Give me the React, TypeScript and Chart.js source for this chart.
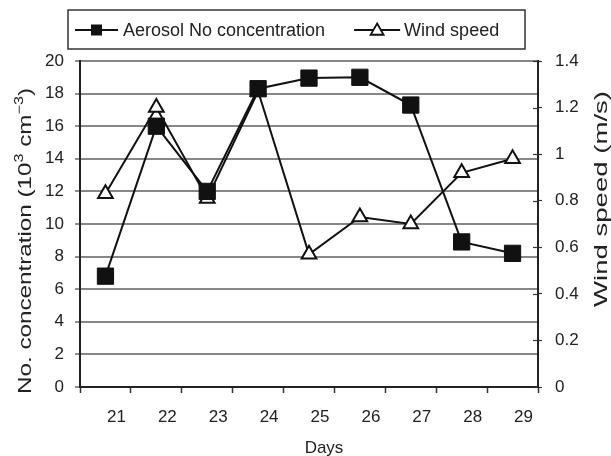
import React, { useEffect, useRef } from 'react';
import { Chart, registerables } from 'chart.js';

Chart.register(...registerables);

const days = ['21', '22', '23', '24', '25', '26', '27', '28', '29'];
const aerosol = [6.8, 16.0, 12.0, 18.3, 18.95, 19.0, 17.3, 8.9, 8.2];
const wind = [0.83, 1.2, 0.81, 1.27, 0.57, 0.73, 0.7, 0.92, 0.98];
const aerosolLabel = 'Aerosol No concentration';
const windLabel = 'Wind speed';
const leftMin = 0;
const leftMax = 20;
const leftStep = 2;
const rightMin = 0;
const rightMax = 1.4;
const rightStep = 0.2;
const xTitle = 'Days';
const rightTitle = 'Wind speed (m/s)';

const FONT = '"Liberation Sans", Arial, sans-serif';
const TEXT = '#222';

function drawSquare(ctx: CanvasRenderingContext2D, x: number, y: number, s: number) {
  ctx.fillStyle = '#111';
  ctx.fillRect(x - s / 2, y - s / 2, s, s);
}
function drawTri(ctx: CanvasRenderingContext2D, x: number, y: number, r: number) {
  ctx.beginPath();
  ctx.moveTo(x, y - r);
  ctx.lineTo(x + r * 0.866, y + r / 2);
  ctx.lineTo(x - r * 0.866, y + r / 2);
  ctx.closePath();
  ctx.fillStyle = '#fff';
  ctx.fill();
  ctx.lineWidth = 1.8;
  ctx.strokeStyle = '#111';
  ctx.stroke();
}

const decor = {
  id: 'decor',
  afterDraw(chart: any) {
    const ctx: CanvasRenderingContext2D = chart.ctx;
    const area = chart.chartArea;
    ctx.save();

    // inner tick marks on right axis
    const y1 = chart.scales.y1;
    ctx.strokeStyle = '#333';
    ctx.lineWidth = 1.2;
    y1.ticks.forEach((t: any) => {
      const py = Math.round(y1.getPixelForValue(t.value)) + 0.5;
      ctx.beginPath();
      ctx.moveTo(area.right - 5, py);
      ctx.lineTo(area.right, py);
      ctx.stroke();
    });

    // legend
    const bx = 68, by = 10, bw = 457, bh = 39;
    ctx.strokeStyle = '#333';
    ctx.lineWidth = 1.5;
    ctx.strokeRect(bx, by, bw, bh);
    const ly = by + bh / 2 + 0.5;
    ctx.font = `18px ${FONT}`;
    ctx.textBaseline = 'middle';
    ctx.fillStyle = TEXT;
    // item 1
    let x = bx + 7;
    ctx.strokeStyle = '#111';
    ctx.lineWidth = 2;
    ctx.beginPath();
    ctx.moveTo(x, ly);
    ctx.lineTo(x + 43, ly);
    ctx.stroke();
    drawSquare(ctx, x + 21.5, ly, 11);
    x += 48;
    ctx.fillStyle = TEXT;
    ctx.fillText(aerosolLabel, x, ly + 1);
    x += ctx.measureText(aerosolLabel).width + 29;
    // item 2
    ctx.strokeStyle = '#111';
    ctx.lineWidth = 2;
    ctx.beginPath();
    ctx.moveTo(x, ly);
    ctx.lineTo(x + 46, ly);
    ctx.stroke();
    drawTri(ctx, x + 23, ly + 1, 7.5);
    x += 50;
    ctx.fillStyle = TEXT;
    ctx.fillText(windLabel, x, ly + 1);

    // x title
    ctx.font = `17px ${FONT}`;
    ctx.textAlign = 'center';
    ctx.textBaseline = 'alphabetic';
    ctx.fillText(xTitle, (area.left + area.right) / 2 + 15, 452.5);

    // left title with superscripts
    const parts = [
      { t: 'No. concentration (10', sup: false },
      { t: '3', sup: true },
      { t: ' cm', sup: false },
      { t: '\u22123', sup: true },
      { t: ')', sup: false },
    ];
    const base = `18px ${FONT}`;
    const supF = `12px ${FONT}`;
    let total = 0;
    const widths = parts.map((p) => {
      ctx.font = p.sup ? supF : base;
      const w = ctx.measureText(p.t).width;
      total += w;
      return w;
    });
    ctx.save();
    ctx.translate(24, (area.top + area.bottom) / 2 + 17);
    ctx.rotate(-Math.PI / 2);
    ctx.scale(306 / total, 1);
    ctx.textAlign = 'left';
    let cx = -total / 2;
    parts.forEach((p, i) => {
      ctx.font = p.sup ? supF : base;
      ctx.fillText(p.t, cx, p.sup ? -1 : 6.5);
      cx += widths[i];
    });
    ctx.restore();

    // right title
    ctx.save();
    ctx.font = base;
    const rw = ctx.measureText(rightTitle).width;
    ctx.translate(600, 199);
    ctx.rotate(-Math.PI / 2);
    ctx.scale(216 / rw, 1);
    ctx.textAlign = 'center';
    ctx.fillText(rightTitle, 0, 6.5);
    ctx.restore();

    ctx.restore();
  },
};

export default function App() {
  const ref = useRef<HTMLCanvasElement>(null);
  useEffect(() => {
    const canvas = ref.current!;
    const tickFont = { family: FONT, size: 17 };
    const chart = new Chart(canvas, {
      type: 'line',
      data: {
        labels: days,
        datasets: [
          {
            label: aerosolLabel,
            data: aerosol,
            yAxisID: 'y',
            borderColor: '#111',
            borderWidth: 2,
            pointStyle: 'rect',
            pointRadius: 11.5,
            pointBackgroundColor: '#111',
            pointBorderColor: '#111',
            pointBorderWidth: 1,
            tension: 0,
          },
          {
            label: windLabel,
            data: wind,
            yAxisID: 'y1',
            borderColor: '#111',
            borderWidth: 2,
            pointStyle: 'triangle',
            pointRadius: 8.5,
            pointBackgroundColor: '#fff',
            pointBorderColor: '#111',
            pointBorderWidth: 2,
            tension: 0,
          },
        ],
      },
      options: {
        responsive: false,
        animation: false,
        devicePixelRatio: 1,
        layout: { padding: { top: 61, left: 0, right: 0, bottom: 0 } },
        plugins: { legend: { display: false }, tooltip: { enabled: false } },
        scales: {
          x: {
            type: 'category',
            offset: true,
            grid: { offset: true, drawOnChartArea: false, tickLength: 6, tickColor: '#333', tickWidth: 1.5 },
            border: { color: '#222', width: 2 },
            ticks: { labelOffset: 11, padding: 14, font: tickFont, color: TEXT, maxRotation: 0 },
            afterFit: (s: any) => {
              s.height = 69;
            },
          },
          y: {
            position: 'left',
            min: leftMin,
            max: leftMax,
            ticks: { stepSize: leftStep, padding: 11, font: tickFont, color: TEXT },
            grid: { color: '#878787', lineWidth: 2, tickLength: 5, tickColor: '#444', tickWidth: 1.2 },
            border: { color: '#222', width: 2 },
            afterFit: (s: any) => {
              s.width = 80;
            },
          },
          y1: {
            position: 'right',
            min: rightMin,
            max: rightMax,
            ticks: {
              stepSize: rightStep,
              padding: 13,
              font: tickFont,
              color: TEXT,
              callback: (v: any) => String(Math.round(Number(v) * 10) / 10),
            },
            grid: { drawOnChartArea: false, tickLength: 4, tickColor: '#333', tickWidth: 1.2 },
            border: { color: '#222', width: 2 },
            afterFit: (s: any) => {
              s.width = 73;
            },
          },
        },
      } as any,
      plugins: [decor],
    });
    return () => chart.destroy();
  }, []);
  return (
    <div style={{ position: 'fixed', left: 0, top: 0, width: 611, height: 456, background: '#fff' }}>
      <canvas ref={ref} width={611} height={456} style={{ width: 611, height: 456, display: 'block' }} />
    </div>
  );
}
